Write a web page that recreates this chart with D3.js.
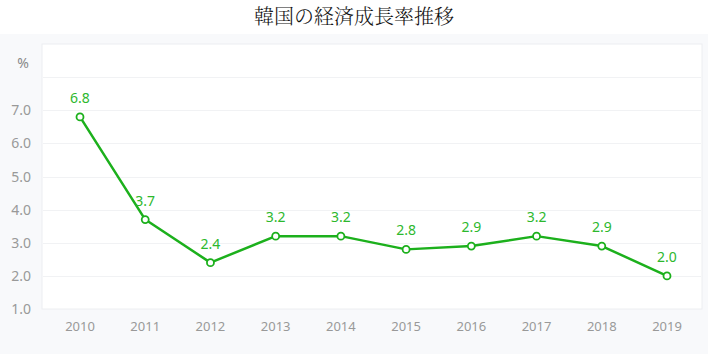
<!DOCTYPE html>
<html>
<head>
<meta charset="utf-8">
<script src="https://cdn.jsdelivr.net/npm/d3@7"></script>
<style>
  html, body { margin: 0; padding: 0; background: #fff; }
  svg { display: block; }
</style>
</head>
<body>
<div id="d3-container"></div>
<script>
/**
 * CONSTANTS AND DATA
 * */
const width = 708,
  height = 354;

const years = ["2010", "2011", "2012", "2013", "2014", "2015", "2016", "2017", "2018", "2019"];
const growth = [6.8, 3.7, 2.4, 3.2, 3.2, 2.8, 2.9, 3.2, 2.9, 2.0];
const yTicks = [1, 2, 3, 4, 5, 6, 7];
const gridTicks = [2, 3, 4, 5, 6, 7, 8];

const green = "#1cb01c";

const svg = d3.select("#d3-container")
  .append("svg")
  .attr("width", width)
  .attr("height", height);

// title
svg.append("text")
  .attr("x", width / 2)
  .attr("y", 24)
  .attr("text-anchor", "middle")
  .attr("font-family", "'Noto Serif CJK JP', 'Noto Sans CJK JP', serif")
  .attr("font-weight", 300)
  .attr("font-size", 20)
  .attr("fill", "#111")
  .text("韓国の経済成長率推移");

// light panel behind the chart
svg.append("rect")
  .attr("x", 0).attr("y", 34)
  .attr("width", width).attr("height", height - 34)
  .attr("fill", "#f8f9fb");

// plot box
const plot = { left: 42, right: 702, top: 44, bottom: 309 };

svg.append("rect")
  .attr("x", plot.left).attr("y", plot.top)
  .attr("width", plot.right - plot.left)
  .attr("height", plot.bottom - plot.top)
  .attr("fill", "#fff")
  .attr("stroke", "#eceef1");

// scales
const x = d3.scalePoint()
  .domain(years)
  .range([80, 667]);

const y = d3.scaleLinear()
  .domain([1, 9])
  .range([plot.bottom, plot.top]);

// grid lines
svg.selectAll("line.grid")
  .data(gridTicks)
  .join("line")
  .attr("class", "grid")
  .attr("x1", plot.left + 1)
  .attr("x2", plot.right - 1)
  .attr("y1", d => Math.round(y(d)) + 0.5)
  .attr("y2", d => Math.round(y(d)) + 0.5)
  .attr("stroke", "#f1f2f4");

// y axis labels
svg.selectAll("text.ytick")
  .data(yTicks)
  .join("text")
  .attr("class", "ytick")
  .attr("x", 31)
  .attr("y", d => y(d) + 5)
  .attr("text-anchor", "end")
  .attr("font-family", "'Noto Sans', sans-serif")
  .attr("font-size", 14)
  .attr("fill", "#999")
  .text(d => d.toFixed(1));

svg.append("text")
  .attr("x", 23)
  .attr("y", 68)
  .attr("text-anchor", "middle")
  .attr("font-family", "'Noto Sans', sans-serif")
  .attr("font-size", 14)
  .attr("fill", "#888")
  .text("%");

// x axis labels
svg.selectAll("text.xtick")
  .data(years)
  .join("text")
  .attr("class", "xtick")
  .attr("x", d => x(d))
  .attr("y", 331)
  .attr("text-anchor", "middle")
  .attr("font-family", "'Noto Sans', sans-serif")
  .attr("font-size", 13)
  .attr("fill", "#999")
  .text(d => d);

// line
const line = d3.line()
  .x((d, i) => x(years[i]))
  .y(d => y(d));

svg.append("path")
  .datum(growth)
  .attr("fill", "none")
  .attr("stroke", green)
  .attr("stroke-width", 2.5)
  .attr("stroke-linejoin", "round")
  .attr("d", line);

// points
svg.selectAll("circle.pt")
  .data(growth)
  .join("circle")
  .attr("class", "pt")
  .attr("cx", (d, i) => x(years[i]))
  .attr("cy", d => y(d))
  .attr("r", 3.5)
  .attr("fill", "#fff")
  .attr("stroke", green)
  .attr("stroke-width", 1.8);

// value labels
svg.selectAll("text.val")
  .data(growth)
  .join("text")
  .attr("class", "val")
  .attr("x", (d, i) => x(years[i]))
  .attr("y", d => y(d) - 14)
  .attr("text-anchor", "middle")
  .attr("font-family", "'Noto Sans', sans-serif")
  .attr("font-size", 14)
  .attr("fill", "#2db82d")
  .text(d => d.toFixed(1));
</script>
</body>
</html>
